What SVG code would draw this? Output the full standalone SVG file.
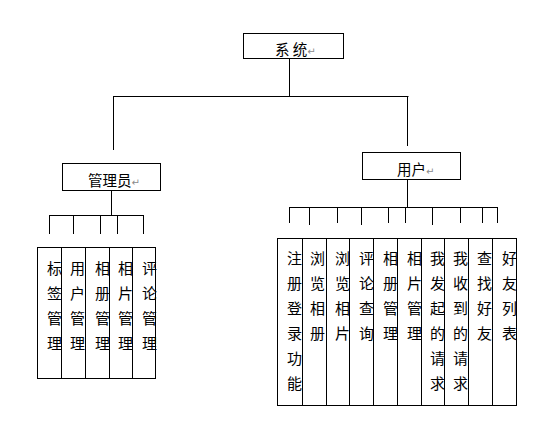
<svg xmlns="http://www.w3.org/2000/svg" width="559" height="428" viewBox="0 0 559 428">
<style>
.box{fill:#fff;stroke:#000;stroke-width:1}
.ln{stroke:#000;stroke-width:1;fill:none}
.t{font-family:"Noto Sans CJK SC","Noto Sans",sans-serif;font-size:14.5px;fill:#000}
.c{font-family:"Noto Sans CJK SC","Noto Sans",sans-serif;font-size:15px;fill:#000}
.rm{font-family:"DejaVu Sans",sans-serif;font-size:10px;fill:#8a8a8a}
</style>
<rect width="559" height="428" fill="#fff"/>
<g id="connectors">
<path class="ln" d="M289.5 59V96.5M113.5 96.5H408.5M113.5 96V150M407.5 96V146"/>
<path class="ln" d="M111.5 191V215.5M49.5 215.5H143.5M49.5 215V234M73.5 215V234M100.5 215V234M117.5 215V234M143.5 215V234"/>
<path class="ln" d="M407.5 180V207.5M289.5 207.5H497.5M289.5 207V223M309.5 207V225M337.5 207V223M361.5 207V225M388.5 207V223M405.5 207V223M432.5 207V225M460.5 207V223M482.5 207V223M497.5 207V223"/>
</g>
<g id="system">
<rect class="box" x="243.5" y="33.5" width="100" height="25"/>
<text class="t" x="275" y="55">系 统<tspan class="rm">↵</tspan></text>
</g>
<g id="admin">
<rect class="box" x="62.5" y="163.5" width="98" height="27"/>
<text class="t" x="88" y="186">管理员<tspan class="rm">↵</tspan></text>
</g>
<g id="user">
<rect class="box" x="362.5" y="152.5" width="98" height="27"/>
<text class="t" x="397" y="175">用户<tspan class="rm">↵</tspan></text>
</g>
<g id="admin-leaves">
<g id="a1"><text class="c"><tspan x="47" y="274">标</tspan><tspan x="47" y="299">签</tspan><tspan x="47" y="324">管</tspan><tspan x="47" y="349">理</tspan></text><rect class="box" style="fill:none" x="37.5" y="247.5" width="24" height="131"/></g>
<g id="a2"><text class="c"><tspan x="70" y="274">用</tspan><tspan x="70" y="299">户</tspan><tspan x="70" y="324">管</tspan><tspan x="70" y="349">理</tspan></text><rect class="box" style="fill:none" x="61.5" y="247.5" width="24" height="131"/></g>
<g id="a3"><text class="c"><tspan x="95" y="274">相</tspan><tspan x="95" y="299">册</tspan><tspan x="95" y="324">管</tspan><tspan x="95" y="349">理</tspan></text><rect class="box" style="fill:none" x="85.5" y="247.5" width="24" height="131"/></g>
<g id="a4"><text class="c"><tspan x="118" y="274">相</tspan><tspan x="118" y="299">片</tspan><tspan x="118" y="324">管</tspan><tspan x="118" y="349">理</tspan></text><rect class="box" style="fill:none" x="109.5" y="247.5" width="23" height="131"/></g>
<g id="a5"><text class="c"><tspan x="142" y="274">评</tspan><tspan x="142" y="299">论</tspan><tspan x="142" y="324">管</tspan><tspan x="142" y="349">理</tspan></text><rect class="box" style="fill:none" x="132.5" y="247.5" width="23" height="131"/></g>
</g>
<g id="user-leaves">
<g id="u1"><text class="c"><tspan x="287" y="264">注</tspan><tspan x="287" y="289">册</tspan><tspan x="287" y="314">登</tspan><tspan x="287" y="339">录</tspan><tspan x="287" y="364">功</tspan><tspan x="287" y="389">能</tspan></text><rect class="box" style="fill:none" x="277.5" y="238.5" width="25" height="167"/></g>
<g id="u2"><text class="c"><tspan x="310" y="264">浏</tspan><tspan x="310" y="289">览</tspan><tspan x="310" y="314">相</tspan><tspan x="310" y="339">册</tspan></text><rect class="box" style="fill:none" x="302.5" y="238.5" width="24" height="167"/></g>
<g id="u3"><text class="c"><tspan x="335" y="264">浏</tspan><tspan x="335" y="289">览</tspan><tspan x="335" y="314">相</tspan><tspan x="335" y="339">片</tspan></text><rect class="box" style="fill:none" x="326.5" y="238.5" width="23" height="167"/></g>
<g id="u4"><text class="c"><tspan x="359" y="264">评</tspan><tspan x="359" y="289">论</tspan><tspan x="359" y="314">查</tspan><tspan x="359" y="339">询</tspan></text><rect class="box" style="fill:none" x="349.5" y="238.5" width="24" height="167"/></g>
<g id="u5"><text class="c"><tspan x="383" y="264">相</tspan><tspan x="383" y="289">册</tspan><tspan x="383" y="314">管</tspan><tspan x="383" y="339">理</tspan></text><rect class="box" style="fill:none" x="373.5" y="238.5" width="24" height="167"/></g>
<g id="u6"><text class="c"><tspan x="407" y="264">相</tspan><tspan x="407" y="289">片</tspan><tspan x="407" y="314">管</tspan><tspan x="407" y="339">理</tspan></text><rect class="box" style="fill:none" x="397.5" y="238.5" width="24" height="167"/></g>
<g id="u7"><text class="c"><tspan x="430" y="264">我</tspan><tspan x="430" y="289">发</tspan><tspan x="430" y="314">起</tspan><tspan x="430" y="339">的</tspan><tspan x="430" y="364">请</tspan><tspan x="430" y="389">求</tspan></text><rect class="box" style="fill:none" x="421.5" y="238.5" width="23" height="167"/></g>
<g id="u8"><text class="c"><tspan x="453" y="264">我</tspan><tspan x="453" y="289">收</tspan><tspan x="453" y="314">到</tspan><tspan x="453" y="339">的</tspan><tspan x="453" y="364">请</tspan><tspan x="453" y="389">求</tspan></text><rect class="box" style="fill:none" x="444.5" y="238.5" width="24" height="167"/></g>
<g id="u9"><text class="c"><tspan x="477" y="264">查</tspan><tspan x="477" y="289">找</tspan><tspan x="477" y="314">好</tspan><tspan x="477" y="339">友</tspan></text><rect class="box" style="fill:none" x="468.5" y="238.5" width="24" height="167"/></g>
<g id="u10"><text class="c"><tspan x="502" y="264">好</tspan><tspan x="502" y="289">友</tspan><tspan x="502" y="314">列</tspan><tspan x="502" y="339">表</tspan></text><rect class="box" style="fill:none" x="492.5" y="238.5" width="24" height="167"/></g>
</g>
</svg>
